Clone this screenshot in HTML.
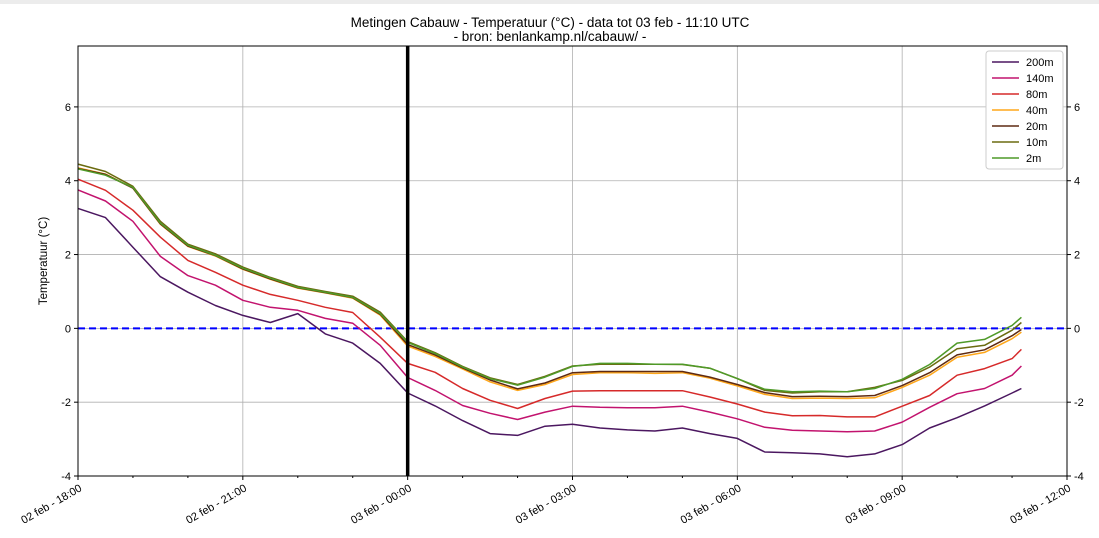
<!DOCTYPE html>
<html><head><meta charset="utf-8"><style>
body{margin:0;background:#fff;font-family:"Liberation Sans","DejaVu Sans",sans-serif}
svg{display:block}
</style></head><body>
<svg id="chart" width="1099" height="538" xmlns="http://www.w3.org/2000/svg"></svg>
<script>
const categories = ["200m","140m","80m","40m","20m","10m","2m"];
const colors = ["#4b1760","#c2136e","#d62a2a","#ffa71a","#5e2a12","#6b6b10","#4f9a28"];
// times in hours after 02 feb 18:00
const times = [0,0.5,1,1.5,2,2.5,3,3.5,4,4.5,5,5.5,6,6.5,7,7.5,8,8.5,9,9.5,10,10.5,11,11.5,12,12.5,13,13.5,14,14.5,15,15.5,16,16.5,17,17.17];
const s200 = [3.25,3.0,2.2,1.4,0.98,0.62,0.35,0.16,0.4,-0.15,-0.4,-0.95,-1.75,-2.1,-2.5,-2.85,-2.9,-2.65,-2.6,-2.7,-2.75,-2.78,-2.7,-2.85,-2.98,-3.35,-3.37,-3.4,-3.48,-3.4,-3.15,-2.7,-2.42,-2.1,-1.75,-1.63];
const s140 = [3.75,3.45,2.9,1.95,1.43,1.17,0.76,0.57,0.49,0.27,0.14,-0.46,-1.33,-1.68,-2.09,-2.3,-2.47,-2.27,-2.11,-2.14,-2.15,-2.15,-2.11,-2.27,-2.45,-2.68,-2.76,-2.78,-2.8,-2.78,-2.54,-2.14,-1.77,-1.63,-1.27,-1.02];
const s80 = [4.04,3.74,3.2,2.47,1.84,1.52,1.17,0.92,0.76,0.57,0.43,-0.24,-0.95,-1.19,-1.63,-1.95,-2.17,-1.9,-1.7,-1.69,-1.69,-1.69,-1.69,-1.86,-2.05,-2.27,-2.37,-2.36,-2.4,-2.4,-2.11,-1.82,-1.27,-1.09,-0.82,-0.57];
const s40 = [4.35,4.18,3.8,2.82,2.22,1.96,1.6,1.33,1.09,0.96,0.82,0.36,-0.48,-0.76,-1.1,-1.45,-1.68,-1.52,-1.25,-1.2,-1.2,-1.22,-1.2,-1.35,-1.56,-1.79,-1.9,-1.89,-1.9,-1.88,-1.6,-1.27,-0.78,-0.65,-0.28,-0.1];
const s20 = [4.33,4.17,3.8,2.83,2.23,1.97,1.61,1.34,1.1,0.97,0.83,0.38,-0.44,-0.72,-1.07,-1.4,-1.64,-1.48,-1.2,-1.17,-1.17,-1.17,-1.17,-1.32,-1.52,-1.74,-1.85,-1.84,-1.85,-1.82,-1.55,-1.2,-0.72,-0.58,-0.2,-0.03];
const s10 = [4.45,4.25,3.85,2.9,2.28,2.02,1.66,1.38,1.14,1.0,0.87,0.44,-0.36,-0.66,-1.03,-1.34,-1.52,-1.3,-1.02,-0.97,-0.97,-0.97,-0.98,-1.08,-1.36,-1.68,-1.75,-1.72,-1.72,-1.6,-1.41,-1.05,-0.55,-0.46,-0.05,0.16];
const s2 = [4.32,4.15,3.82,2.85,2.25,1.98,1.63,1.36,1.11,0.98,0.84,0.4,-0.38,-0.68,-1.05,-1.36,-1.54,-1.32,-1.03,-0.95,-0.95,-0.97,-0.97,-1.08,-1.36,-1.65,-1.72,-1.7,-1.72,-1.63,-1.38,-0.98,-0.4,-0.3,0.08,0.3];
const series = [s200,s140,s80,s40,s20,s10,s2];
const yTicks = [-4,-2,0,2,4,6];
const xTickHours = [0,3,6,9,12,15,18];
const xTickLabels = ["02 feb - 18:00","02 feb - 21:00","03 feb - 00:00","03 feb - 03:00","03 feb - 06:00","03 feb - 09:00","03 feb - 12:00"];
const markerHour = 6;

const L=78,R=1067,T=46,B=476;
const xMin=0,xMax=18,yMin=-4,yMax=7.65;
const X=h=>L+(h-xMin)/(xMax-xMin)*(R-L);
const Y=v=>B-(v-yMin)/(yMax-yMin)*(B-T);
const svg=document.getElementById('chart');
const NS="http://www.w3.org/2000/svg";
function mk(tag,attrs,parent){const e=document.createElementNS(NS,tag);for(const k in attrs)e.setAttribute(k,attrs[k]);(parent||svg).appendChild(e);return e;}

const band=mk('rect',{x:0,y:0,width:1099,height:4,fill:'#ececec'});



const t1=mk('text',{x:550,y:27,'text-anchor':'middle','font-size':13.5,fill:'#000'});t1.textContent='Metingen Cabauw - Temperatuur (°C) - data tot 03 feb - 11:10 UTC';


const t2=mk('text',{x:550,y:41,'text-anchor':'middle','font-size':13.5,fill:'#000'});t2.textContent='- bron: benlankamp.nl/cabauw/ -';



yTicks.forEach(v=>{const g=mk('line',{x1:L,x2:R,y1:Y(v),y2:Y(v),stroke:'#b0b0b0','stroke-width':0.8});

});
xTickHours.forEach(h=>{const g=mk('line',{x1:X(h),x2:X(h),y1:T,y2:B,stroke:'#b0b0b0','stroke-width':0.8});

});

const z=mk('line',{x1:L,x2:R,y1:Y(0),y2:Y(0),stroke:'#0000ff','stroke-width':2,'stroke-dasharray':'7,4'});



series.forEach((s,i)=>{
  const d=s.map((v,j)=>(j?'L':'M')+X(times[j]).toFixed(1)+','+Y(v).toFixed(1)).join(' ');
  const p=mk('path',{d:d,fill:'none',stroke:colors[i],'stroke-width':1.5,'stroke-linejoin':'round'});
  
  
});

const m=mk('line',{x1:X(markerHour),x2:X(markerHour),y1:T,y2:B,stroke:'#000','stroke-width':3.5});



const fr=mk('rect',{x:L,y:T,width:R-L,height:B-T,fill:'none',stroke:'#000','stroke-width':1});



yTicks.forEach(v=>{
  mk('line',{x1:L-4,x2:L,y1:Y(v),y2:Y(v),stroke:'#000'});
  mk('line',{x1:R,x2:R+4,y1:Y(v),y2:Y(v),stroke:'#000'});
  const a=mk('text',{x:L-7,y:Y(v)+4,'text-anchor':'end','font-size':11});a.textContent=v;
  
  
  const b=mk('text',{x:R+7,y:Y(v)+4,'text-anchor':'start','font-size':11});b.textContent=v;
  
  
});
for(let h=0;h<=18;h++){const maj=h%3===0;mk('line',{x1:X(h),x2:X(h),y1:B,y2:B+(maj?4:2),stroke:'#000'});}
xTickHours.forEach((h,i)=>{
  const x=X(h)+1,y=B+8;
  const t=mk('text',{x:x,y:y,'text-anchor':'end','font-size':11,transform:`rotate(-30 ${x} ${y})`,'dominant-baseline':'hanging'});
  t.textContent=xTickLabels[i];
  
  
});
const yl=mk('text',{x:47,y:261,'text-anchor':'middle','font-size':11.5,transform:'rotate(-90 47 261)'});yl.textContent='Temperatuur (°C)';



const lg=mk('g',{});


mk('rect',{x:986,y:51,width:77,height:118,rx:3,fill:'#fff',stroke:'#ccc'},lg);
categories.forEach((c,i)=>{
  const y=62+i*16;
  const e=mk('g',{},lg);
  
  
  mk('line',{x1:992,x2:1019,y1:y,y2:y,stroke:colors[i],'stroke-width':1.5},e);
  const t=mk('text',{x:1026,y:y+4,'font-size':11},e);t.textContent=c;
});
</script>
</body></html>
